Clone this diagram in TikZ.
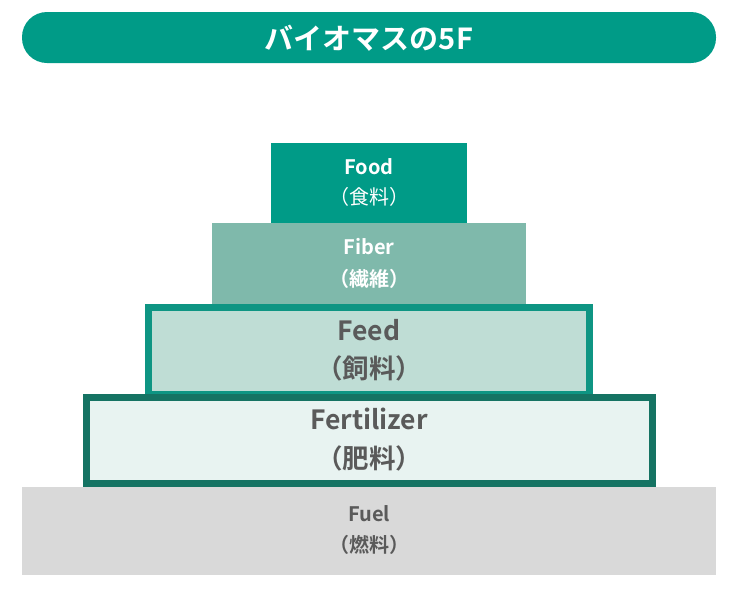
\documentclass[tikz,border=0pt]{standalone}
\usepackage{fontspec}
\setmainfont{Noto Sans CJK JP}[BoldFont={* Bold}]
\usetikzlibrary{positioning}
\definecolor{teal1}{HTML}{009B87}
\definecolor{fiberc}{HTML}{7FB9AB}
\definecolor{feedc}{HTML}{BFDDD5}
\definecolor{feedb}{HTML}{0E9583}
\definecolor{fertc}{HTML}{E8F3F1}
\definecolor{fertb}{HTML}{157363}
\definecolor{fuelc}{HTML}{D9D9D9}
\definecolor{txtg}{HTML}{5A5A5A}
\tikzset{
  lbl/.style={font=\bfseries, align=center, inner sep=0pt},
}
\begin{document}
\begin{tikzpicture}[x=1pt,y=-1pt]
\useasboundingbox (0,0) rectangle (733,592);
% title pill
\fill[teal1, rounded corners=25pt] (22,12) rectangle (716,63);
\node[lbl, text=white, font=\bfseries\fontsize{29}{32}\selectfont] (title) at (369,38) {バイオマスの5F};
% fuel
\fill[fuelc] (22,487) rectangle (716,575);
\node[lbl, text=txtg, font=\bfseries\fontsize{20}{31}\selectfont] (fuel) at (369,530) {Fuel\\（燃料）};
% feed
\filldraw[fill=feedc, draw=feedb, line width=6.5pt] (148.5,307.5) rectangle (589.5,394);
\node[lbl, text=txtg, font=\bfseries\fontsize{26.5}{38}\selectfont] (feed) at (369,350) {Feed\\（飼料）};
% fertilizer
\filldraw[fill=fertc, draw=fertb, line width=7pt] (86.5,397) rectangle (652,483.5);
\node[lbl, text=txtg, font=\bfseries\fontsize{26.5}{39}\selectfont] (fert) at (369,440) {Fertilizer\\（肥料）};
% fiber
\fill[fiberc] (212,223) rectangle (526,304);
\node[lbl, text=white, font=\bfseries\fontsize{20}{32}\selectfont] (fiber) at (369,263) {Fiber\\（繊維）};
% food
\fill[teal1] (271,143) rectangle (467,223);
\node[lbl, text=white, font=\bfseries\fontsize{20}{30}\selectfont] (food) at (369,182) {Food\\{\mdseries（食料）}};
\end{tikzpicture}
\end{document}
